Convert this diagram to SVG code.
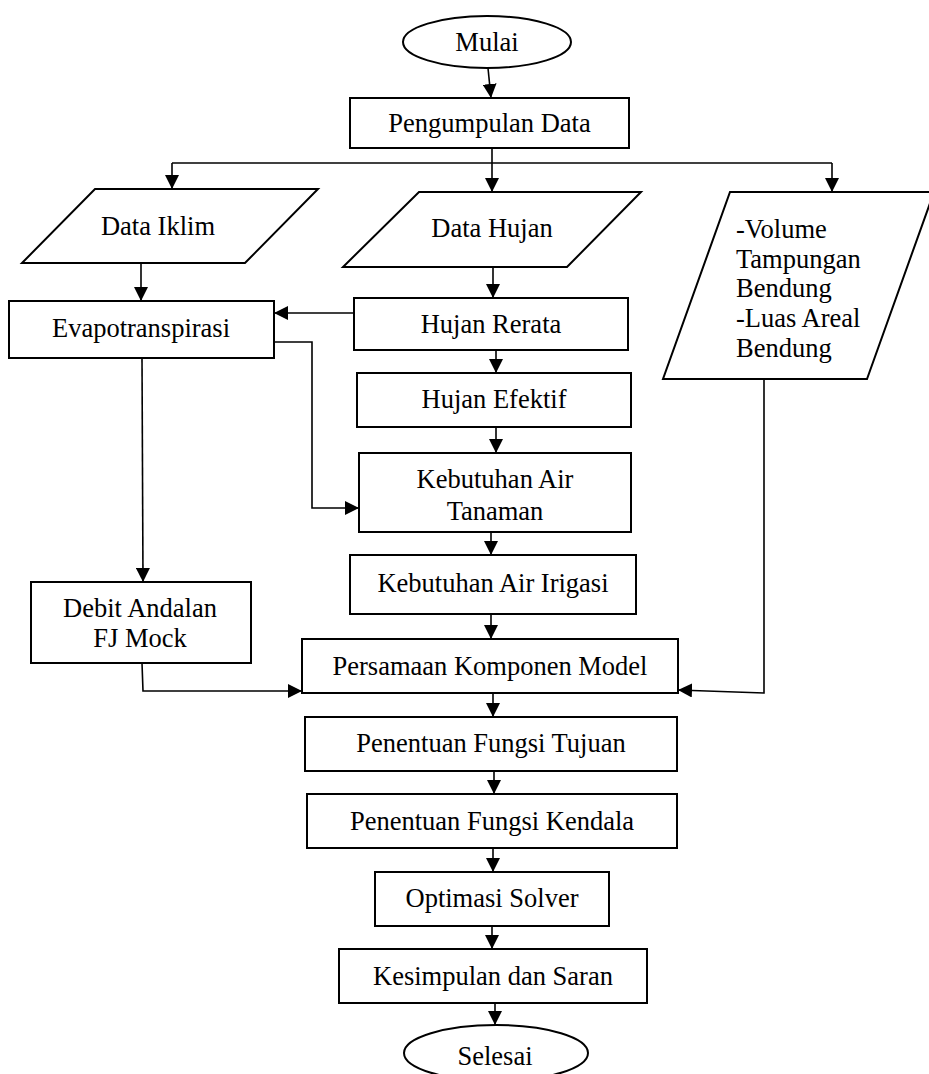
<svg xmlns="http://www.w3.org/2000/svg" width="929" height="1074" viewBox="0 0 929 1074">
<style>
.n{fill:#fff;stroke:#000;stroke-width:2}
.t{font-family:"Liberation Serif","Times New Roman",serif;font-size:26.5px;fill:#000;text-anchor:middle}
.l{font-family:"Liberation Serif","Times New Roman",serif;font-size:26.5px;fill:#000}
.c{fill:none;stroke:#000;stroke-width:1.6}
</style>
<defs>
<marker id="ah" markerUnits="userSpaceOnUse" markerWidth="14" markerHeight="14" refX="14" refY="7" orient="auto">
<path d="M0,0 L14,7 L0,14 z" fill="#000"/>
</marker>
</defs>
<rect width="929" height="1074" fill="#fff"/>
<g id="connectors">
<path class="c" d="M488,68 L491,98" marker-end="url(#ah)"/>
<path class="c" d="M492,148 L492,192" marker-end="url(#ah)"/>
<path class="c" d="M172,163 L832,163"/>
<path class="c" d="M172,163 L172,189" marker-end="url(#ah)"/>
<path class="c" d="M832,163 L832,192" marker-end="url(#ah)"/>
<path class="c" d="M141,263 L141,301" marker-end="url(#ah)"/>
<path class="c" d="M493,267 L493,298" marker-end="url(#ah)"/>
<path class="c" d="M354,313 L274,313" marker-end="url(#ah)"/>
<path class="c" d="M496,350 L496,373" marker-end="url(#ah)"/>
<path class="c" d="M496,427 L496,453" marker-end="url(#ah)"/>
<path class="c" d="M274,342 L312,342 L312,508 L359,508" marker-end="url(#ah)"/>
<path class="c" d="M142,358 L143,582" marker-end="url(#ah)"/>
<path class="c" d="M491,532 L491,555" marker-end="url(#ah)"/>
<path class="c" d="M491,614 L491,639" marker-end="url(#ah)"/>
<path class="c" d="M142,663 L143,691 L302,691" marker-end="url(#ah)"/>
<path class="c" d="M764,379 L764,693 L678,690" marker-end="url(#ah)"/>
<path class="c" d="M493,693 L493,717" marker-end="url(#ah)"/>
<path class="c" d="M494,771 L494,794" marker-end="url(#ah)"/>
<path class="c" d="M493,848 L493,872" marker-end="url(#ah)"/>
<path class="c" d="M492,926 L492,949" marker-end="url(#ah)"/>
<path class="c" d="M495,1003 L495,1025" marker-end="url(#ah)"/>
</g>
<g id="mulai"><ellipse class="n" cx="487" cy="42" rx="84" ry="26"/><text class="t" x="487" y="51">Mulai</text></g>
<g id="pengumpulan"><rect class="n" x="350" y="98" width="279" height="50"/><text class="t" x="489.5" y="132">Pengumpulan Data</text></g>
<g id="data-iklim"><polygon class="n" points="95,189 318,189 245,263 22,263"/><text class="t" x="158" y="235">Data Iklim</text></g>
<g id="data-hujan"><polygon class="n" points="419,192 641,192 567,267 343,267"/><text class="t" x="492" y="237">Data Hujan</text></g>
<g id="data-bendung"><polygon class="n" points="730,192 934,192 867,379 663,379"/>
<text class="l" x="736" y="238">-Volume</text>
<text class="l" x="736" y="268">Tampungan</text>
<text class="l" x="736" y="297">Bendung</text>
<text class="l" x="736" y="327">-Luas Areal</text>
<text class="l" x="736" y="357">Bendung</text></g>
<g id="evapotranspirasi"><rect class="n" x="9" y="301" width="265" height="57"/><text class="t" x="141" y="337">Evapotranspirasi</text></g>
<g id="hujan-rerata"><rect class="n" x="354" y="298" width="274" height="52"/><text class="t" x="491" y="333">Hujan Rerata</text></g>
<g id="hujan-efektif"><rect class="n" x="357" y="373" width="274" height="54"/><text class="t" x="494" y="408">Hujan Efektif</text></g>
<g id="kebutuhan-tanaman"><rect class="n" x="359" y="453" width="272" height="79"/><text class="t" x="495" y="488">Kebutuhan Air</text><text class="t" x="495" y="520">Tanaman</text></g>
<g id="kebutuhan-irigasi"><rect class="n" x="350" y="555" width="286" height="59"/><text class="t" x="493" y="592">Kebutuhan Air Irigasi</text></g>
<g id="debit-andalan"><rect class="n" x="31" y="582" width="220" height="81"/><text class="t" x="140" y="617">Debit Andalan</text><text class="t" x="140" y="647">FJ Mock</text></g>
<g id="persamaan"><rect class="n" x="302" y="639" width="376" height="54"/><text class="t" x="490" y="675">Persamaan Komponen Model</text></g>
<g id="fungsi-tujuan"><rect class="n" x="305" y="717" width="372" height="54"/><text class="t" x="491" y="752">Penentuan Fungsi Tujuan</text></g>
<g id="fungsi-kendala"><rect class="n" x="307" y="794" width="370" height="54"/><text class="t" x="492" y="830">Penentuan Fungsi Kendala</text></g>
<g id="optimasi"><rect class="n" x="375" y="872" width="234" height="54"/><text class="t" x="492" y="907">Optimasi Solver</text></g>
<g id="kesimpulan"><rect class="n" x="339" y="949" width="308" height="54"/><text class="t" x="493" y="985">Kesimpulan dan Saran</text></g>
<g id="selesai"><ellipse class="n" cx="496" cy="1053" rx="92" ry="28"/><text class="t" x="495" y="1065">Selesai</text></g>
</svg>
